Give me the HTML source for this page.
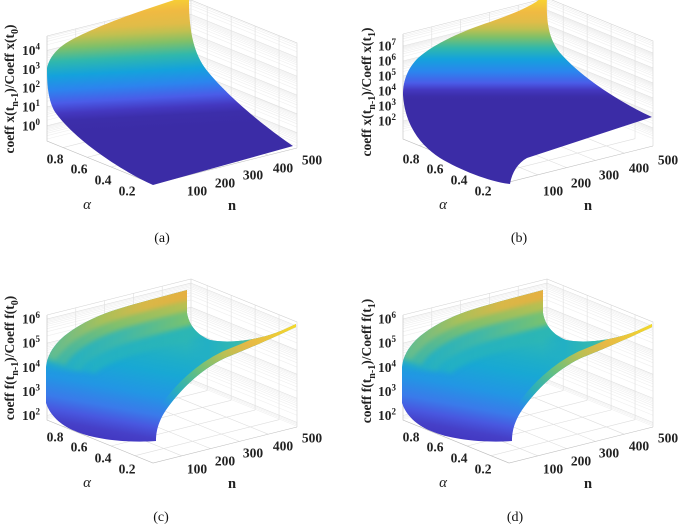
<!DOCTYPE html>
<html><head><meta charset="utf-8"><style>html,body{margin:0;padding:0;background:#fff}svg{display:block}</style></head>
<body>
<svg xmlns="http://www.w3.org/2000/svg" width="678" height="524" viewBox="0 0 678 524">
<defs>
<filter id="bl" filterUnits="userSpaceOnUse" x="-10" y="250" width="720" height="250" color-interpolation-filters="sRGB"><feGaussianBlur stdDeviation="2.5"/></filter>

<linearGradient id="gA" gradientUnits="userSpaceOnUse" x1="130" y1="0" x2="137" y2="130">
<stop offset="0" stop-color="#f8d232"/><stop offset="0.1" stop-color="#f0ba42"/><stop offset="0.2" stop-color="#e0bc48"/><stop offset="0.26" stop-color="#c0c050"/><stop offset="0.34" stop-color="#80c068"/><stop offset="0.44" stop-color="#30b8ac"/><stop offset="0.55" stop-color="#14a2dc"/><stop offset="0.66" stop-color="#2c84ee"/><stop offset="0.76" stop-color="#4a5ce8"/><stop offset="0.84" stop-color="#4438c0"/><stop offset="0.9" stop-color="#3c2eaa"/><stop offset="1" stop-color="#3b2ca6"/>
</linearGradient>
<linearGradient id="gB" gradientUnits="userSpaceOnUse" x1="0" y1="0" x2="0" y2="100">
<stop offset="0" stop-color="#f8d232"/><stop offset="0.12" stop-color="#f0ba42"/><stop offset="0.22" stop-color="#e0bc48"/><stop offset="0.29" stop-color="#c0c050"/><stop offset="0.37" stop-color="#80c068"/><stop offset="0.48" stop-color="#30b8ac"/><stop offset="0.59" stop-color="#14a2dc"/><stop offset="0.72" stop-color="#2c84ee"/><stop offset="0.83" stop-color="#4a5ce8"/><stop offset="0.9" stop-color="#4438c0"/><stop offset="0.96" stop-color="#3c2eaa"/><stop offset="1" stop-color="#3b2ca6"/>
</linearGradient>

<linearGradient id="gC" gradientUnits="userSpaceOnUse" x1="120" y1="330" x2="100" y2="440">
<stop offset="0" stop-color="#2cb6b8"/><stop offset="0.17" stop-color="#1eaec8"/><stop offset="0.31" stop-color="#18a8d4"/><stop offset="0.52" stop-color="#2296e4"/><stop offset="0.69" stop-color="#3a7aea"/><stop offset="0.80" stop-color="#4858e0"/><stop offset="0.90" stop-color="#4640c8"/><stop offset="1" stop-color="#4236c0"/>
</linearGradient>
<linearGradient id="s96" gradientUnits="userSpaceOnUse" x1="46" y1="0" x2="187" y2="0"><stop offset="0" stop-color="#1ca8d2" stop-opacity="0"/><stop offset="0.35" stop-color="#22b0c4"/><stop offset="1" stop-color="#2cb6b4"/></linearGradient>
<linearGradient id="s70" gradientUnits="userSpaceOnUse" x1="46" y1="0" x2="187" y2="0"><stop offset="0" stop-color="#20acc8" stop-opacity="0.3"/><stop offset="0.25" stop-color="#2ab2bc"/><stop offset="0.55" stop-color="#40b8a8"/><stop offset="1" stop-color="#78c270"/></linearGradient>
<linearGradient id="s40" gradientUnits="userSpaceOnUse" x1="46" y1="0" x2="187" y2="0"><stop offset="0" stop-color="#30b4b4"/><stop offset="0.5" stop-color="#80c06c"/><stop offset="1" stop-color="#b8c050"/></linearGradient>
<linearGradient id="s20" gradientUnits="userSpaceOnUse" x1="46" y1="0" x2="187" y2="0"><stop offset="0" stop-color="#58bc98"/><stop offset="0.4" stop-color="#a8c05a"/><stop offset="0.7" stop-color="#d8b848"/><stop offset="1" stop-color="#e6b040"/></linearGradient>
<linearGradient id="gCL" gradientUnits="userSpaceOnUse" x1="186" y1="0" x2="298" y2="0"><stop offset="0" stop-color="#1eaccc" stop-opacity="0"/><stop offset="0.2" stop-color="#22b0c4"/><stop offset="0.45" stop-color="#34b8b0"/><stop offset="0.65" stop-color="#6cc080"/><stop offset="0.85" stop-color="#b8c452"/><stop offset="1" stop-color="#eed630"/></linearGradient>
<linearGradient id="gCE" gradientUnits="userSpaceOnUse" x1="296" y1="326" x2="160" y2="420"><stop offset="0" stop-color="#f4d82c"/><stop offset="0.3" stop-color="#e6b846"/><stop offset="0.46" stop-color="#b8c055"/><stop offset="0.64" stop-color="#68c07e"/><stop offset="0.81" stop-color="#30b4b0" stop-opacity="0.8"/><stop offset="0.94" stop-color="#22a4d4" stop-opacity="0"/><stop offset="1" stop-color="#22a4d4" stop-opacity="0"/></linearGradient>

<clipPath id="cA"><path d="M47,68 C50,55 60,45 77,37 C95,28 120,18 150,8 L186,-4 L190,-4 L189,0 C189,25 192,50 205,68 C222,90 255,120 293,146 L153,185 C120,170 75,140 55,112 C48,100 47,85 47,68 Z"/></clipPath>
<clipPath id="cB"><path d="M403,95 C403,80 408,68 418,58 C435,43 465,30 490,22 C515,13 535,5 543,-4 L547,-4 C546,20 548,40 562,55 C580,75 615,100 652,117 L527,158 C518,163 512,172 510,184 C490,182 460,170 440,158 C420,145 405,125 403,95 Z"/></clipPath>
<clipPath id="cC"><path d="M187,290 L187,313 C189,325 197,335 210,340 C230,344 260,340 283,330 L296,324 L296,327 C275,337 250,348 225,358 C200,370 180,390 166,410 C158,422 156,432 156,441 C130,443 95,440 75,431 C60,425 50,415 46,403 L46,367 C47,357 52,348 60,340 C70,330 90,318 115,310 C140,302 165,296 187,290 Z"/></clipPath>

<path id="zaM" vector-effect="non-scaling-stroke" d="M0,125.8H1M0,106.95H1M0,88.1H1M0,69.25H1M0,50.4H1"/>
<path id="zam" vector-effect="non-scaling-stroke" d="M0,138.98H1M0,135.66H1M0,133.3H1M0,131.47H1M0,129.98H1M0,128.72H1M0,127.63H1M0,126.66H1M0,120.13H1M0,116.81H1M0,114.45H1M0,112.62H1M0,111.13H1M0,109.87H1M0,108.78H1M0,107.81H1M0,101.28H1M0,97.96H1M0,95.6H1M0,93.77H1M0,92.28H1M0,91.02H1M0,89.93H1M0,88.96H1M0,82.43H1M0,79.11H1M0,76.75H1M0,74.92H1M0,73.43H1M0,72.17H1M0,71.08H1M0,70.11H1M0,63.58H1M0,60.26H1M0,57.9H1M0,56.07H1M0,54.58H1M0,53.32H1M0,52.23H1M0,51.26H1M0,44.73H1M0,41.41H1M0,39.05H1M0,37.22H1"/>
<path id="zbM" vector-effect="non-scaling-stroke" d="M0,121H1M0,106H1M0,91H1M0,76H1M0,61H1M0,46H1"/>
<path id="zbm" vector-effect="non-scaling-stroke" d="M0,131.48H1M0,128.84H1M0,126.97H1M0,125.52H1M0,124.33H1M0,123.32H1M0,122.45H1M0,121.69H1M0,116.48H1M0,113.84H1M0,111.97H1M0,110.52H1M0,109.33H1M0,108.32H1M0,107.45H1M0,106.69H1M0,101.48H1M0,98.84H1M0,96.97H1M0,95.52H1M0,94.33H1M0,93.32H1M0,92.45H1M0,91.69H1M0,86.48H1M0,83.84H1M0,81.97H1M0,80.52H1M0,79.33H1M0,78.32H1M0,77.45H1M0,76.69H1M0,71.48H1M0,68.84H1M0,66.97H1M0,65.52H1M0,64.33H1M0,63.32H1M0,62.45H1M0,61.69H1M0,56.48H1M0,53.84H1M0,51.97H1M0,50.52H1M0,49.33H1M0,48.32H1M0,47.45H1M0,46.69H1M0,41.48H1M0,38.84H1M0,36.97H1M0,35.52H1"/>
<path id="zcM" vector-effect="non-scaling-stroke" d="M0,415.5H1M0,391.4H1M0,367.3H1M0,343.2H1M0,319.1H1"/>
<path id="zcm" vector-effect="non-scaling-stroke" d="M0,419.23H1M0,417.84H1M0,416.61H1M0,408.25H1M0,404H1M0,400.99H1M0,398.66H1M0,396.75H1M0,395.13H1M0,393.74H1M0,392.51H1M0,384.15H1M0,379.9H1M0,376.89H1M0,374.56H1M0,372.65H1M0,371.03H1M0,369.64H1M0,368.41H1M0,360.05H1M0,355.8H1M0,352.79H1M0,350.46H1M0,348.55H1M0,346.93H1M0,345.54H1M0,344.31H1M0,335.95H1M0,331.7H1M0,328.69H1M0,326.36H1M0,324.45H1M0,322.83H1M0,321.44H1M0,320.21H1"/>
</defs>

<rect width="678" height="524" fill="#fff"/>

<!-- ========== PANEL A ========== -->
<g fill="none" stroke-width="0.6">
 <g transform="matrix(144,-36,0,1,47,0)">
  <use href="#zam" stroke="#efefef"/><use href="#zaM" stroke="#dedede"/>
  <path vector-effect="non-scaling-stroke" stroke="#dedede" d="M0.2,36V141M0.4,36V141M0.6,36V141M0.8,36V141"/>
  <path vector-effect="non-scaling-stroke" stroke="#d2d2d2" d="M0,36H1V141"/>
 </g>
 <g transform="matrix(106,43,0,1,191,-36)">
  <use href="#zam" stroke="#efefef"/><use href="#zaM" stroke="#dedede"/>
  <path vector-effect="non-scaling-stroke" stroke="#dedede" d="M0.1526,36V141M0.3786,36V141M0.6046,36V141M0.8306,36V141"/>
  <path vector-effect="non-scaling-stroke" stroke="#d2d2d2" d="M0,36H1V141"/>
 </g>
 <g transform="matrix(106,43,144,-36,47,141)">
  <path vector-effect="non-scaling-stroke" stroke="#dedede" d="M0.1526,0V1M0.3786,0V1M0.6046,0V1M0.8306,0V1M0,0.2H1M0,0.4H1M0,0.6H1M0,0.8H1"/>
 </g>
 <path stroke="#bdbdbd" d="M47,36V141L153,184L297,148"/>
</g>
<g clip-path="url(#cA)">
 <rect x="0" y="-10" width="340" height="210" fill="url(#gA)"/>
</g>

<!-- ========== PANEL B ========== -->
<g fill="none" stroke-width="0.6">
 <g transform="matrix(144,-36,0,1,403,0)">
  <use href="#zbm" stroke="#efefef"/><use href="#zbM" stroke="#dedede"/>
  <path vector-effect="non-scaling-stroke" stroke="#dedede" d="M0.2,34V139M0.4,34V139M0.6,34V139M0.8,34V139"/>
  <path vector-effect="non-scaling-stroke" stroke="#d2d2d2" d="M0,34H1V139"/>
 </g>
 <g transform="matrix(106,43,0,1,547,-36)">
  <use href="#zbm" stroke="#efefef"/><use href="#zbM" stroke="#dedede"/>
  <path vector-effect="non-scaling-stroke" stroke="#dedede" d="M0.1526,34V139M0.3786,34V139M0.6046,34V139M0.8306,34V139"/>
  <path vector-effect="non-scaling-stroke" stroke="#d2d2d2" d="M0,34H1V139"/>
 </g>
 <g transform="matrix(106,43,144,-36,403,139)">
  <path vector-effect="non-scaling-stroke" stroke="#dedede" d="M0.1526,0V1M0.3786,0V1M0.6046,0V1M0.8306,0V1M0,0.2H1M0,0.4H1M0,0.6H1M0,0.8H1"/>
 </g>
 <path stroke="#bdbdbd" d="M403,34V139L509,182L653,146"/>
</g>
<g clip-path="url(#cB)">
 <rect x="390" y="-10" width="280" height="210" fill="url(#gB)"/>
</g>

<!-- ========== PANEL C (reused for D) ========== -->
<g id="pc">
 <g fill="none" stroke-width="0.6">
  <g transform="matrix(144,-36,0,1,47,0)">
   <use href="#zcm" stroke="#efefef"/><use href="#zcM" stroke="#dedede"/>
   <path vector-effect="non-scaling-stroke" stroke="#dedede" d="M0.2,315V420M0.4,315V420M0.6,315V420M0.8,315V420"/>
   <path vector-effect="non-scaling-stroke" stroke="#d2d2d2" d="M0,315H1V420"/>
  </g>
  <g transform="matrix(106,43,0,1,191,-36)">
   <use href="#zcm" stroke="#efefef"/><use href="#zcM" stroke="#dedede"/>
   <path vector-effect="non-scaling-stroke" stroke="#dedede" d="M0.1526,315V420M0.3786,315V420M0.6046,315V420M0.8306,315V420"/>
   <path vector-effect="non-scaling-stroke" stroke="#d2d2d2" d="M0,315H1V420"/>
  </g>
  <g transform="matrix(106,43,144,-36,47,420)">
   <path vector-effect="non-scaling-stroke" stroke="#dedede" d="M0.1526,0V1M0.3786,0V1M0.6046,0V1M0.8306,0V1M0,0.2H1M0,0.4H1M0,0.6H1M0,0.8H1"/>
  </g>
  <path stroke="#bdbdbd" d="M47,315V420L153,463L297,427"/>
 </g>
 <g clip-path="url(#cC)">
  <rect x="30" y="280" width="280" height="175" fill="url(#gC)"/>
  <path d="M186,318 L300,314 L305,330 L240,362 L200,382 L186,382 Z" fill="url(#gCL)"/>
  <g fill="none" filter="url(#bl)">
   <path d="M46,368 C47,357 52,348 60,340 C70,330 90,318 115,310 C140,302 165,296 187,290 L215,283" stroke="url(#s96)" stroke-width="96"/>
   <path d="M46,368 C47,357 52,348 60,340 C70,330 90,318 115,310 C140,302 165,296 187,290 L215,283" stroke="url(#s70)" stroke-width="70"/>
   <path d="M46,362 C47,355 52,348 60,340 C70,330 90,318 115,310 C140,302 165,296 187,290 L215,283" stroke="url(#s40)" stroke-width="40"/>
   <path d="M46,358 C47,353 52,348 60,340 C70,330 90,318 115,310 C140,302 165,296 187,290 L215,283" stroke="url(#s20)" stroke-width="20"/>
  </g>
  <path d="M298,325 C275,337 250,348 225,358 C200,370 180,390 166,410 C158,422 156,432 156,441" fill="none" stroke="url(#gCE)" stroke-width="14"/>
 </g>
 <g font-family="'Liberation Serif','Times New Roman',serif" font-weight="bold" font-size="13.5" fill="#222">
  <text x="22" y="323.6">10<tspan dy="-5.5" font-size="9">6</tspan></text>
  <text x="22" y="347.7">10<tspan dy="-5.5" font-size="9">5</tspan></text>
  <text x="22" y="371.8">10<tspan dy="-5.5" font-size="9">4</tspan></text>
  <text x="22" y="395.9">10<tspan dy="-5.5" font-size="9">3</tspan></text>
  <text x="22" y="420">10<tspan dy="-5.5" font-size="9">2</tspan></text>
  <g text-anchor="middle">
   <text x="55" y="441.5">0.8</text><text x="79" y="451.5">0.6</text><text x="103" y="462.5">0.4</text><text x="127" y="473.5">0.2</text>
   <text x="197" y="473.5">100</text><text x="225" y="465.5">200</text><text x="253" y="457.5">300</text><text x="283" y="450.5">400</text><text x="312" y="442.5">500</text>
   <text x="232" y="488" font-size="14.5">n</text>
   <text x="87" y="487" font-size="15" font-weight="normal" font-style="italic">α</text>
  </g>
 </g>
</g>
<use href="#pc" transform="translate(356,0)"/>

<!-- ========== TEXT A / B ========== -->
<g font-family="'Liberation Serif','Times New Roman',serif" font-weight="bold" font-size="13.5" fill="#222">
 <text x="22" y="54.9">10<tspan dy="-5.5" font-size="9">4</tspan></text>
 <text x="22" y="73.75">10<tspan dy="-5.5" font-size="9">3</tspan></text>
 <text x="22" y="92.6">10<tspan dy="-5.5" font-size="9">2</tspan></text>
 <text x="22" y="111.45">10<tspan dy="-5.5" font-size="9">1</tspan></text>
 <text x="22" y="130.3">10<tspan dy="-5.5" font-size="9">0</tspan></text>

 <text x="378" y="50.5">10<tspan dy="-5.5" font-size="9">7</tspan></text>
 <text x="378" y="65.5">10<tspan dy="-5.5" font-size="9">6</tspan></text>
 <text x="378" y="80.5">10<tspan dy="-5.5" font-size="9">5</tspan></text>
 <text x="378" y="95.5">10<tspan dy="-5.5" font-size="9">4</tspan></text>
 <text x="378" y="110.5">10<tspan dy="-5.5" font-size="9">3</tspan></text>
 <text x="378" y="125.5">10<tspan dy="-5.5" font-size="9">2</tspan></text>

 <g text-anchor="middle">
  <text x="55" y="163.5">0.8</text><text x="79" y="173.5">0.6</text><text x="103" y="184.5">0.4</text><text x="127" y="195.5">0.2</text>
  <text x="197" y="195.5">100</text><text x="225" y="187.5">200</text><text x="253" y="179.5">300</text><text x="283" y="172.5">400</text><text x="312" y="164.5">500</text>
  <text x="232" y="210" font-size="14.5">n</text>
  <text x="87" y="209" font-size="15" font-weight="normal" font-style="italic">α</text>

  <text x="411" y="163.5">0.8</text><text x="435" y="173.5">0.6</text><text x="459" y="184.5">0.4</text><text x="483" y="195.5">0.2</text>
  <text x="553" y="195.5">100</text><text x="581" y="187.5">200</text><text x="609" y="179.5">300</text><text x="639" y="172.5">400</text><text x="668" y="164.5">500</text>
  <text x="588" y="210" font-size="14.5">n</text>
  <text x="443" y="209" font-size="15" font-weight="normal" font-style="italic">α</text>
 </g>

 <g font-size="13.5" text-anchor="middle">
  <text transform="translate(14,89) rotate(-90)">coeff x(t<tspan dy="4" font-size="10">n-1</tspan><tspan dy="-4">)/Coeff x(t</tspan><tspan dy="4" font-size="10">0</tspan><tspan dy="-4">)</tspan></text>
  <text transform="translate(371,92) rotate(-90)">coeff x(t<tspan dy="4" font-size="10">n-1</tspan><tspan dy="-4">)/Coeff x(t</tspan><tspan dy="4" font-size="10">1</tspan><tspan dy="-4">)</tspan></text>
  <text transform="translate(14,358) rotate(-90)">coeff f(t<tspan dy="4" font-size="10">n-1</tspan><tspan dy="-4">)/Coeff f(t</tspan><tspan dy="4" font-size="10">0</tspan><tspan dy="-4">)</tspan></text>
  <text transform="translate(371,361) rotate(-90)">coeff f(t<tspan dy="4" font-size="10">n-1</tspan><tspan dy="-4">)/Coeff f(t</tspan><tspan dy="4" font-size="10">1</tspan><tspan dy="-4">)</tspan></text>
 </g>
</g>

<g font-family="'Liberation Serif','Times New Roman',serif" font-size="14" fill="#111" text-anchor="middle">
 <text x="162" y="242">(a)</text>
 <text x="519" y="242">(b)</text>
 <text x="161" y="521">(c)</text>
 <text x="515" y="521">(d)</text>
</g>
</svg>
</body></html>
